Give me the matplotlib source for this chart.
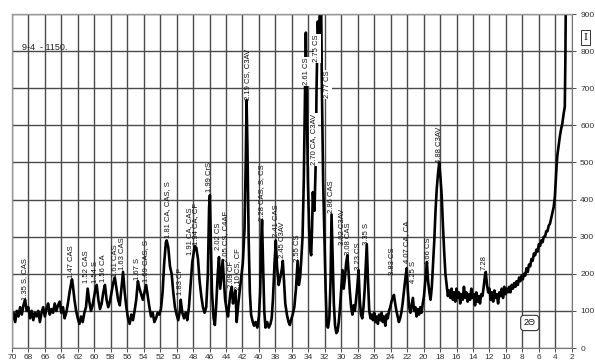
import numpy as np
import matplotlib
matplotlib.use("Agg")
import matplotlib.pyplot as plt

plt.rcParams['font.family'] = ['Liberation Sans', 'DejaVu Sans']

# ---- diffractogram (2theta, intensity) ----
two_theta = [
    70.0, 69.8, 69.6, 69.4, 69.2, 69.0, 68.8, 68.6, 68.4, 68.2, 68.0, 67.8, 67.6, 67.4, 67.2,
    67.0, 66.8, 66.6, 66.4, 66.2, 66.0, 65.8, 65.6, 65.4, 65.2, 65.0, 64.8, 64.6, 64.4, 64.2,
    64.0, 63.8, 63.6, 63.4, 63.2, 63.0, 62.8, 62.7, 62.6, 62.4, 62.2, 62.0, 61.8, 61.6, 61.4,
    61.2, 61.0, 60.8, 60.6, 60.4, 60.2, 60.0, 59.8, 59.7, 59.5, 59.3, 59.1, 58.9, 58.7, 58.5,
    58.3, 58.1, 57.9, 57.7, 57.5, 57.3, 57.1, 56.9, 56.7, 56.5, 56.3, 56.1, 55.9, 55.7, 55.5,
    55.3, 55.1, 54.9, 54.7, 54.5, 54.3, 54.1, 53.9, 53.7, 53.5, 53.3, 53.1, 52.9, 52.7, 52.5,
    52.3, 52.1, 51.9, 51.7, 51.5, 51.3, 51.2, 51.0, 50.8, 50.6, 50.4, 50.2, 50.0, 49.8, 49.6,
    49.5, 49.3, 49.1, 48.9, 48.7, 48.5, 48.3, 48.1, 47.9, 47.8, 47.6, 47.4, 47.2, 47.0, 46.8,
    46.6, 46.4, 46.2, 46.05, 45.95, 45.85, 45.7, 45.5, 45.35, 45.2, 45.0, 44.85, 44.7, 44.55, 44.4,
    44.25, 44.1, 43.9, 43.75, 43.6, 43.45, 43.3, 43.15, 43.0, 42.85, 42.7, 42.5, 42.3, 42.1, 41.95,
    41.75, 41.6, 41.5, 41.4, 41.25, 41.1, 40.95, 40.8, 40.6, 40.4, 40.2, 40.0, 39.85, 39.7, 39.62,
    39.5, 39.35, 39.2, 39.0, 38.8, 38.6, 38.45, 38.3, 38.1, 37.95, 37.8, 37.6, 37.4, 37.2, 37.1,
    36.95, 36.8, 36.6, 36.4, 36.25, 36.1, 35.9, 35.7, 35.5, 35.3, 35.15, 35.0, 34.85, 34.7, 34.55,
    34.4, 34.3, 34.2, 34.05, 33.9, 33.75, 33.65, 33.55, 33.45, 33.35, 33.25, 33.1, 33.0, 32.85, 32.75,
    32.65, 32.55, 32.45, 32.35, 32.2, 32.05, 31.9, 31.75, 31.6, 31.45, 31.3, 31.18, 31.05, 30.9, 30.75,
    30.6, 30.45, 30.3, 30.15, 30.0, 29.85, 29.7, 29.55, 29.4, 29.25, 29.1, 28.95, 28.8, 28.65, 28.5,
    28.35, 28.2, 28.05, 27.9, 27.75, 27.6, 27.45, 27.3, 27.15, 27.0, 26.9, 26.75, 26.6, 26.45, 26.3,
    26.15, 26.0, 25.85, 25.7, 25.55, 25.4, 25.25, 25.1, 24.95, 24.8, 24.65, 24.5, 24.35, 24.2, 24.05,
    23.9, 23.75, 23.6, 23.45, 23.3, 23.15, 23.0, 22.85, 22.7, 22.55, 22.4, 22.2, 22.05, 21.9, 21.75,
    21.6, 21.45, 21.3, 21.15, 21.0, 20.85, 20.7, 20.55, 20.4, 20.25, 20.1, 19.95, 19.8, 19.6, 19.45,
    19.3, 19.15, 19.0, 18.85, 18.7, 18.55, 18.4, 18.25, 18.1, 17.95, 17.8, 17.65, 17.5, 17.35, 17.2,
    17.05, 16.9, 16.75, 16.6, 16.45, 16.3, 16.15, 16.0, 15.85, 15.7, 15.55, 15.4, 15.25, 15.1, 14.95,
    14.8, 14.65, 14.5, 14.35, 14.2, 14.05, 13.9, 13.75, 13.6, 13.45, 13.3, 13.15, 13.0, 12.85, 12.7,
    12.55, 12.45, 12.3, 12.15, 12.0, 11.85, 11.7, 11.55, 11.4, 11.25, 11.1, 10.95, 10.8, 10.65, 10.5,
    10.35, 10.2, 10.05, 9.9, 9.75, 9.6, 9.45, 9.3, 9.15, 9.0, 8.85, 8.7, 8.55, 8.4, 8.25,
    8.1, 7.95, 7.8, 7.65, 7.5, 7.35, 7.2, 7.05, 6.9, 6.75, 6.6, 6.45, 6.3, 6.15, 6.0,
    5.85, 5.7, 5.55, 5.4, 5.25, 5.1, 4.95, 4.8, 4.65, 4.5, 4.35, 4.2, 4.05, 3.95, 3.85,
    3.75, 3.6, 3.45, 3.3, 3.15, 3.0, 2.85, 2.78, 2.72,
]
intensity = [
    75, 95, 70, 100, 85, 110, 90, 115, 130, 100, 110, 80, 100, 75, 95,
    85, 100, 70, 95, 110, 85, 105, 120, 90, 105, 95, 120, 100, 115, 125,
    95, 110, 80, 95, 120, 150, 175, 185, 170, 130, 100, 80, 65, 85, 70,
    95, 110, 160, 125, 100, 115, 140, 165, 170, 130, 105, 120, 150, 170, 130,
    110, 125, 150, 175, 190, 160, 130, 115, 160, 205, 150, 110, 80, 65, 90,
    75, 100, 130, 180, 160, 145, 130, 150, 170, 140, 110, 85, 95, 70, 80,
    95, 90, 105, 150, 230, 285, 290, 270, 220, 200, 150, 110, 90, 75, 100,
    130, 95, 80, 95, 75, 110, 170, 230, 260, 275, 270, 240, 180, 140, 110,
    95, 110, 200, 380, 412, 300, 150, 80, 62, 110, 200, 245, 160, 200, 237,
    180, 130, 100, 85, 120, 150, 165, 120, 140, 155, 70, 120, 160, 200, 230,
    320, 500, 668, 550, 300, 150, 90, 75, 60, 70, 55, 85, 150, 300, 345,
    230, 100, 55, 70, 55, 65, 80, 130, 230, 290, 220, 170, 190, 215, 235,
    180, 120, 90, 70, 62, 75, 90, 110, 160, 235, 170, 190, 240, 300, 450,
    700, 850, 700, 450, 320, 260, 250, 320, 420, 380, 370, 500, 700, 880, 820,
    880, 950, 960, 700, 450, 300, 160, 60, 55, 80, 180, 360, 250, 120, 60,
    40, 45, 70, 110, 160, 210, 160, 190, 230, 250, 200, 150, 110, 90, 115,
    100, 130, 165, 210, 130, 90, 80, 110, 160, 230, 280, 180, 100, 80, 90,
    75, 95, 70, 85, 65, 90, 75, 95, 70, 85, 60, 90, 80, 100, 110,
    125, 135, 143, 120, 100, 85, 70, 80, 95, 120, 150, 190, 215, 150, 110,
    95, 115, 135, 100, 110, 85, 105, 90, 110, 95, 120, 140, 180, 232, 180,
    150, 130, 165, 230, 290, 370, 430, 470, 500, 460, 410, 330, 260, 200, 170,
    140, 155, 135, 160, 130, 150, 125, 160, 135, 150, 120, 145, 130, 165, 135,
    150, 125, 145, 130, 160, 135, 145, 115, 150, 125, 140, 120, 145, 140, 165,
    195, 205, 170, 150, 160, 130, 150, 125, 155, 135, 145, 120, 150, 140, 160,
    135, 165, 145, 160, 150, 165, 150, 170, 160, 175, 165, 180, 170, 190, 180,
    195, 185, 200, 195, 215, 205, 225, 220, 240, 235, 255, 250, 265, 260, 280,
    275, 290, 285, 300, 300, 315, 315, 330, 335, 350, 365, 380, 410, 450, 490,
    520, 545, 570, 590, 605, 630, 650, 780, 950,
]

# ---- peak annotations: position, bottom of text, label ----
peak_pos = [68.42, 62.71, 60.9, 59.8, 58.83, 57.37, 56.52, 54.70, 53.73, 51.06,
            49.48, 48.39, 47.66, 45.96, 44.85, 44.05, 43.29, 42.56, 41.34, 39.64,
            37.82, 37.09, 35.27, 34.18, 33.33, 32.96, 31.63, 31.14, 29.81, 29.08,
            27.86, 26.89, 23.73, 22.03, 21.18, 19.36, 18.03, 12.68]
peak_base = [129, 189, 175, 175, 178, 191, 210, 183, 178, 296,
             143, 250, 278, 420, 264, 232, 162, 156, 668, 342,
             299, 243, 232, 709, 493, 771, 674, 364, 278, 251,
             210, 278, 197, 229, 175, 224, 499, 210]
peak_text = ["1.35 S, CAS", "1.47 CAS", "1.52 CAS", "1.54 S", "1.56 CA", "1.61 CAS",
             "1.63 CAS", "1.67 S", "1.69 CAS, S", "1.81 CA, CAS, S", "1.83 CF",
             "1.91 CA, CAS", "1.94 CA, CF", "1.99 CrS", "2.02 CS", "2.05 CS, C4AF",
             "2.09 CF", "2.10 CS, CF", "2.19 CS, C3AV", "2.28 CAS, S, CS", "2.41 CAS",
             "2.45 C3AV", "2.55 CS", "2.61 CS", "2.70 CA, C3AV", "2.75 CS", "2.77 CS",
             "2.86 CAS", "3.02 C3AV", "3.08 CAS", "3.23 CS", "3.35 S", "3.83 CS",
             "4.07 CA, CA", "4.25 S", "4.66 CS", "4.88 C3AV", "7.28"]
boxed = {"2.61 CS", "2.70 CA, C3AV", "2.75 CS", "2.77 CS"}

x_ticks = list(range(70, 1, -2))
y_ticks = list(range(0, 901, 100))

fig = plt.figure(figsize=(5.95, 3.61), dpi=100)
ax = fig.add_axes([0.020, 0.036, 0.941, 0.925])

ax.plot(two_theta, intensity, color='black', linewidth=1.9, zorder=2)

ax.set_xlim(70, 2)
ax.set_ylim(0, 900)
ax.set_xticks(x_ticks)
ax.set_yticks(y_ticks)
ax.grid(True, color='#4a4a4a', linewidth=1.0, zorder=0)
ax.set_axisbelow(True)

ax.yaxis.tick_right()
ax.tick_params(axis='both', labelsize=6, colors='#333333', length=3, width=0.6, pad=1.5)
ax.tick_params(axis='y', pad=3)
for side in ['left', 'top']:
    ax.spines[side].set_color('#999999')
    ax.spines[side].set_linewidth(1.0)
for side in ['right', 'bottom']:
    ax.spines[side].set_color('#777777')
    ax.spines[side].set_linewidth(0.8)

for x, yb, t in zip(peak_pos, peak_base, peak_text):
    kw = {}
    if t in boxed:
        kw['bbox'] = dict(facecolor='white', edgecolor='none', pad=0.6)
    ax.text(x, yb, t, rotation=90, ha='center', va='bottom', fontsize=5.5,
            color='#111111', zorder=4, **kw)

ax.text(0.018, 0.9, "9-4  - 1150.", transform=ax.transAxes, fontsize=6.5,
        color='#222222', ha='left', va='center')
ax.text(0.925, 0.075, "2Θ", transform=ax.transAxes, fontsize=6.5, color='#111111',
        ha='center', va='center',
        bbox=dict(facecolor='white', edgecolor='#333333', boxstyle='round,pad=0.35', linewidth=0.8))
fig.text(0.984, 0.895, "I", fontsize=7, color='#111111', ha='center', va='center',
         family='DejaVu Serif',
         bbox=dict(facecolor='white', edgecolor='#333333', boxstyle='square,pad=0.3', linewidth=0.7))

fig.savefig("out.png", dpi=100)
